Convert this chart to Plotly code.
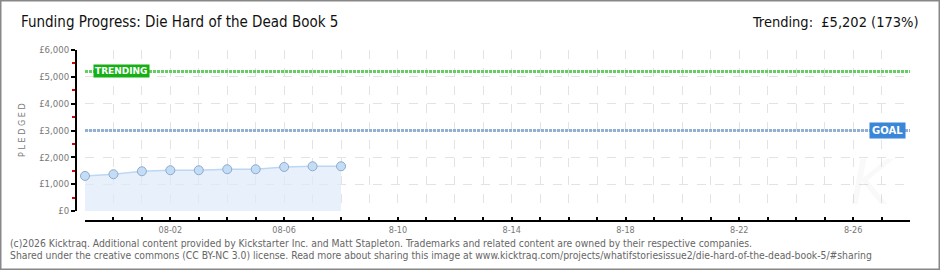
import plotly.graph_objects as go

# ---- data ----
dates = ["2025-07-30", "2025-07-31", "2025-08-01", "2025-08-02", "2025-08-03",
         "2025-08-04", "2025-08-05", "2025-08-06", "2025-08-07", "2025-08-08"]
pledged = [1307, 1370, 1481, 1519, 1519, 1556, 1556, 1641, 1667, 1667]
goal = 3000
trending = 5202
x_start, x_end = "2025-07-30", "2025-08-28"
xtick_vals = ["2025-08-02", "2025-08-06", "2025-08-10", "2025-08-14",
              "2025-08-18", "2025-08-22", "2025-08-26"]
xtick_text = ["08-02", "08-06", "8-10", "8-14", "8-18", "8-22", "8-26"]
ytick_vals = [0, 1000, 2000, 3000, 4000, 5000, 6000]
ytick_text = ["£0", "£1,000", "£2,000", "£3,000", "£4,000", "£5,000", "£6,000"]
title_text = "Funding Progress: Die Hard of the Dead Book 5"
trend_text = "Trending:  £5,202 (173%)"
footer1 = ("(c)2026 Kicktraq. Additional content provided by Kickstarter Inc. and Matt Stapleton. "
           "Trademarks and related content are owned by their respective companies.")
footer2 = ("Shared under the creative commons (CC BY-NC 3.0) license. Read more about sharing this image at "
           "www.kicktraq.com/projects/whatifstoriesissue2/die-hard-of-the-dead-book-5/#sharing")

FONT = "DejaVu Sans Condensed, sans-serif"
WIDE = "DejaVu Sans, sans-serif"
W, H = 940, 270
ML, MR, MT, MB = 76, 30, 50, 49
PW, PH = W - ML - MR, H - MT - MB

fig = go.Figure()
fig.add_trace(go.Scatter(
    x=dates, y=pledged, mode="lines+markers", fill="tozeroy",
    fillcolor="rgba(222,235,250,0.7)",
    line=dict(color="#bcd7f3", width=1.5),
    marker=dict(size=9, color="#c4ddf6", line=dict(color="#8fa9c9", width=1)),
    cliponaxis=False, hoverinfo="skip", showlegend=False))

grid = dict(gridcolor="#e3e3e3", griddash="dash", gridwidth=1)

fig.update_layout(
    width=W, height=H, margin=dict(l=ML, r=MR, t=MT, b=MB),
    paper_bgcolor="white", plot_bgcolor="white",
    font=dict(family=FONT, color="#777", size=10),
    xaxis=dict(
        type="date", range=[x_start, x_end], domain=[9 / PW, 1],
        anchor="free", position=0,
        tickmode="array", tickvals=xtick_vals, ticktext=xtick_text,
        ticks="inside", ticklen=3, tickwidth=1.5, tickcolor="black",
        showline=True, linecolor="black", linewidth=2,
        showgrid=True, zeroline=False,
        tickfont=dict(family=FONT, size=9, color="#777"),
        minor=dict(dtick=86400000, tick0=x_start, ticks="inside", ticklen=3,
                   tickwidth=1.5, tickcolor="black", showgrid=True, **grid),
        **grid),
    yaxis=dict(
        range=[0, 6000], domain=[10 / PH, 1],
        anchor="free", position=0,
        tickmode="array", tickvals=ytick_vals, ticktext=ytick_text,
        ticks="outside", ticklen=4, tickwidth=1.5, tickcolor="black",
        showline=True, linecolor="black", linewidth=2,
        showgrid=True, zeroline=False,
        tickfont=dict(family=FONT, size=9.5, color="#777"),
        minor=dict(dtick=500, tick0=0, ticks="outside", ticklen=3, tickwidth=1.5,
                   tickcolor="#e00000", showgrid=False),
        **grid),
)

# goal & trending lines
fig.add_shape(type="line", xref="x domain", yref="y", x0=0, x1=1, y0=trending, y1=trending,
              line=dict(color="#66cc66", width=3, dash="3px,1px"))
fig.add_shape(type="line", xref="x domain", yref="y", x0=0, x1=1, y0=goal, y1=goal,
              line=dict(color="#92afd6", width=3, dash="3px,1px"))

def px(xp):
    return (xp - ML) / PW

def py(yp):
    return (H - MB - yp) / PH

# faint watermark
fig.add_annotation(xref="paper", yref="paper", x=px(872), y=py(182), xanchor="center", yanchor="middle",
                   text="<i>K</i>", showarrow=False,
                   font=dict(family=WIDE, size=62, color="rgba(0,0,0,0.025)"))

fig.add_annotation(xref="x domain", yref="y", x=0.01, y=trending, xanchor="left", yanchor="middle",
                   text="TRENDING", showarrow=False, bgcolor="#16b016",
                   font=dict(family=WIDE, size=9, color="white", weight="bold"), borderpad=1)
fig.add_annotation(xref="x domain", yref="y", x=0.995, y=goal, xanchor="right", yanchor="middle",
                   text="GOAL", showarrow=False, bgcolor="#3a86d8",
                   font=dict(family=WIDE, size=10, color="white", weight="bold"), borderpad=2)

fig.add_annotation(xref="paper", yref="paper", x=px(19), y=py(22), xanchor="left", yanchor="middle",
                   text=title_text, showarrow=False, font=dict(family=FONT, size=15, color="#111"))
fig.add_annotation(xref="paper", yref="paper", x=px(921), y=py(22), xanchor="right", yanchor="middle",
                   text=trend_text, showarrow=False, font=dict(family=FONT, size=14.5, color="#111"))
fig.add_annotation(xref="paper", yref="paper", x=px(22), y=py(130), xanchor="center", yanchor="middle",
                   text="P L E D G E D", textangle=-90, showarrow=False,
                   font=dict(family=FONT, size=9, color="#777"))
fig.add_annotation(xref="paper", yref="paper", x=px(8), y=py(243), xanchor="left", yanchor="middle",
                   text=footer1, showarrow=False, font=dict(family=FONT, size=10.3, color="#666"))
fig.add_annotation(xref="paper", yref="paper", x=px(8), y=py(255), xanchor="left", yanchor="middle",
                   text=footer2, showarrow=False, font=dict(family=FONT, size=10.3, color="#666"))

# outer border
fig.add_shape(type="rect", xref="paper", yref="paper",
              x0=px(0.5), x1=px(W - 0.5), y0=py(H - 0.5), y1=py(0.5),
              line=dict(color="#888", width=2), fillcolor="rgba(0,0,0,0)")

fig.write_html("out.html")
